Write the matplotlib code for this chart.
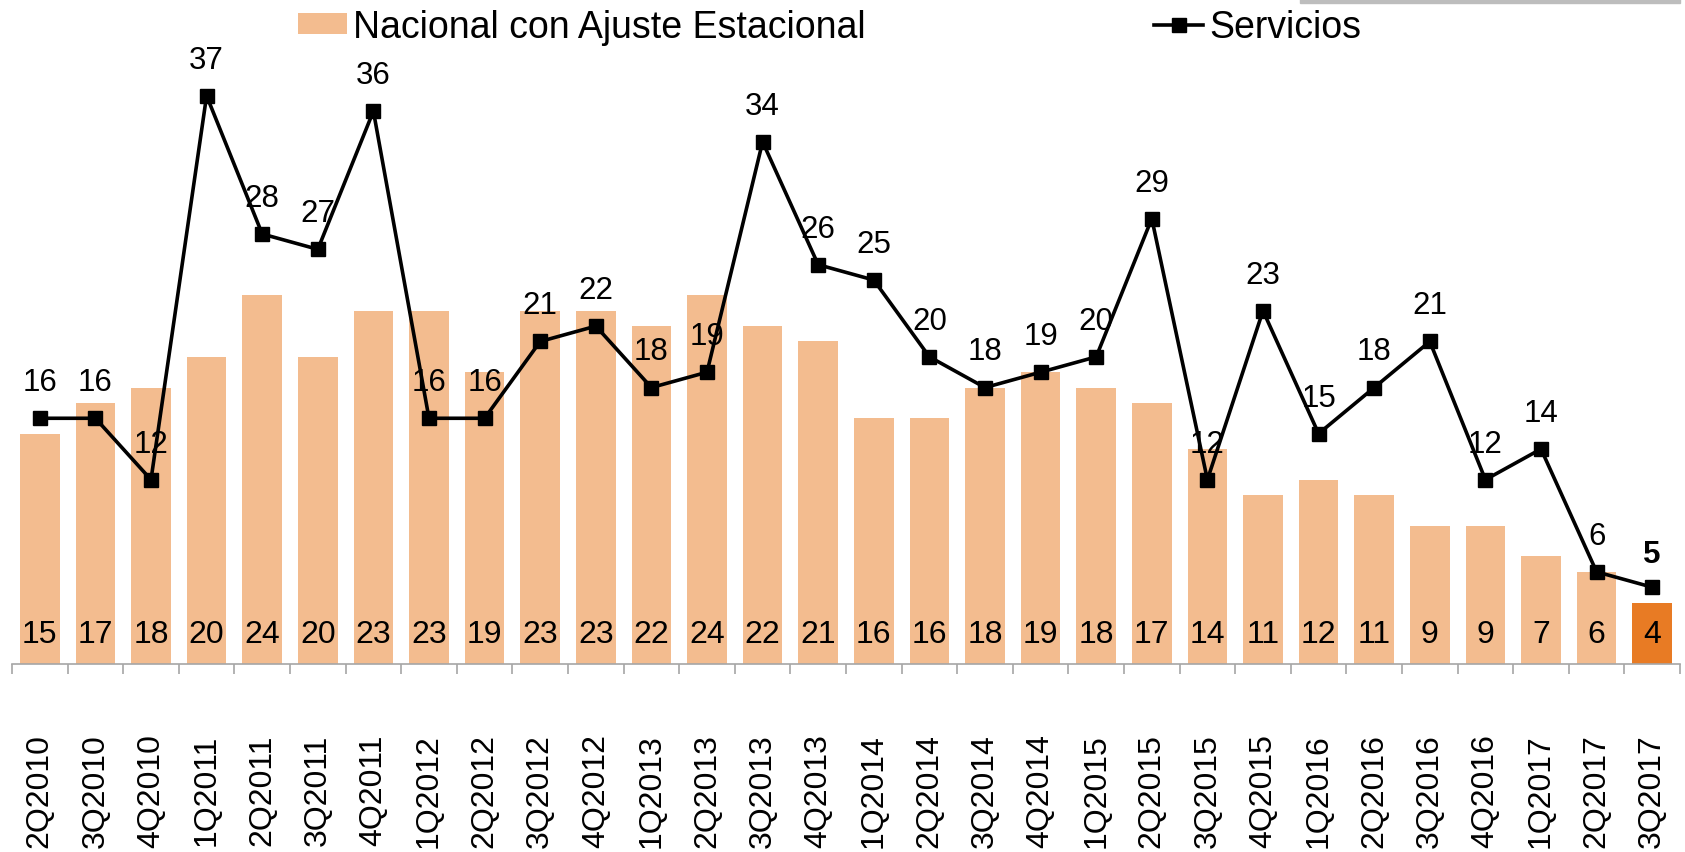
import matplotlib
matplotlib.use("Agg")
import matplotlib.pyplot as plt
from matplotlib.patches import Rectangle

categories = ["2Q2010", "3Q2010", "4Q2010", "1Q2011", "2Q2011", "3Q2011", "4Q2011",
              "1Q2012", "2Q2012", "3Q2012", "4Q2012", "1Q2013", "2Q2013", "3Q2013",
              "4Q2013", "1Q2014", "2Q2014", "3Q2014", "4Q2014", "1Q2015", "2Q2015",
              "3Q2015", "4Q2015", "1Q2016", "2Q2016", "3Q2016", "4Q2016", "1Q2017",
              "2Q2017", "3Q2017"]
nacional = [15, 17, 18, 20, 24, 20, 23, 23, 19, 23, 23, 22, 24, 22, 21, 16, 16, 18,
            19, 18, 17, 14, 11, 12, 11, 9, 9, 7, 6, 4]
servicios = [16, 16, 12, 37, 28, 27, 36, 16, 16, 21, 22, 18, 19, 34, 26, 25, 20, 18,
             19, 20, 29, 12, 23, 15, 18, 21, 12, 14, 6, 5]

plt.rcParams['font.family'] = ['Liberation Sans', 'DejaVu Sans']
FS = 23
FS_LINE = 22.5
FS_LEG = 27

W, H = 1685, 853
fig = plt.figure(figsize=(W / 100, H / 100), dpi=100)
ax = fig.add_axes([12 / W, (H - 665) / H, (1680 - 12) / W, 665 / H])

light = '#F3BC8F'
dark = '#E87B24'
x = list(range(len(categories)))
colors = [light] * (len(categories) - 1) + [dark]
bars = ax.bar(x, nacional, width=0.71, color=colors, zorder=1,
              label='Nacional con Ajuste Estacional')
line, = ax.plot(x, servicios, color='black', lw=2.6, marker='s', markersize=10,
                zorder=3, label='Servicios')

for i, v in enumerate(nacional):
    ax.annotate(str(v), (i, 0), xytext=(0, 21.5), textcoords='offset points',
                ha='center', va='center', fontsize=FS, color='black', zorder=4)
for i, v in enumerate(servicios):
    last = i == len(servicios) - 1
    ax.annotate(str(v), (i, v), xytext=(0, 24 if last else 26),
                textcoords='offset points', ha='center', va='center',
                fontsize=FS_LINE, color='black', zorder=4,
                fontweight='bold' if last else 'normal')

ax.set_xlim(-0.5, len(categories) - 0.5)
ax.set_ylim(0, 43.3)
ax.set_yticks([])
for s in ['top', 'right', 'left']:
    ax.spines[s].set_visible(False)
ax.spines['bottom'].set_color('#A6A6A6')
ax.spines['bottom'].set_linewidth(1.2)

ax.set_xticks([i - 0.5 for i in range(len(categories) + 1)], minor=False)
ax.set_xticklabels([])
ax.tick_params(axis='x', which='major', length=7, color='#A6A6A6', width=1.2)
ax.set_xticks(x, minor=True)
ax.set_xticklabels(categories, minor=True, rotation=90, fontsize=FS)
ax.tick_params(axis='x', which='minor', length=0, pad=50)
for lbl in ax.get_xticklabels(minor=True):
    lbl.set_va('top')

fig.legend(handles=[bars, line],
           labels=['Nacional con Ajuste Estacional', 'Servicios'],
           loc='upper left', bbox_to_anchor=(298 / W, 1 - 10 / H), ncol=2,
           frameon=False, fontsize=FS_LEG, borderpad=0, borderaxespad=0,
           handlelength=1.3, handleheight=0.5, handletextpad=0.16,
           columnspacing=7.7)

fig.patches.append(Rectangle((1300 / W, 1 - 4 / H), 380 / W, 4 / H,
                             transform=fig.transFigure, color='#BDBDBD',
                             zorder=0))

fig.savefig('out.png', dpi=100)
